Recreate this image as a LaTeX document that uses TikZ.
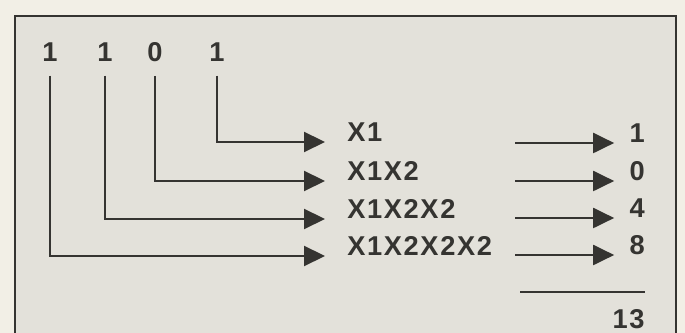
\documentclass[tikz,border=0pt]{standalone}
\usepackage{fontspec}
\setmainfont{Liberation Sans}
\usetikzlibrary{arrows.meta,positioning}
\definecolor{paper}{HTML}{F2EFE6}
\definecolor{panel}{HTML}{E3E1DA}
\definecolor{ink}{HTML}{353431}
\tikzset{
  digit/.style={font=\fontsize{15.5}{18}\selectfont\bfseries\addfontfeatures{LetterSpace=6}, text=ink, inner sep=0pt},
  product/.style={digit, anchor=base west},
  value/.style={digit, anchor=base east},
  arrow/.style={-{Triangle[length=0.42cm, width=0.4cm]}, line width=1.2pt, draw=ink},
  bitline/.style={arrow, shorten <=0.28cm, shorten >=0.44cm},
  rule/.style={line width=1.2pt, draw=ink}
}

\begin{document}
\begin{tikzpicture}[x=0.02cm, y=-0.02cm]
\useasboundingbox (0,0) rectangle (685,333);
\fill[paper] (0,0) rectangle (685,333);
\fill[panel] (15,16) rectangle (676,333);
\draw[rule] (15,333) -- (15,16) -- (676,16) -- (676,333);

\node[digit] (b1) at (50,52) {1};
\node[digit] (b2) at (105,52) {1};
\node[digit] (b3) at (155,52) {0};
\node[digit] (b4) at (217,52) {1};

\node[product] (p1) at (347,142) {X1};
\node[product] (p2) at (347,181) {X1X2};
\node[product] (p3) at (347,219) {X1X2X2};
\node[product] (p4) at (347,256) {X1X2X2X2};

% each bit drops down and turns right to its power of two
\draw[bitline] (b4.south) |- (p1.base west);
\draw[bitline] (b3.south) |- (p2.base west);
\draw[bitline] (b2.south) |- (p3.base west);
\draw[bitline] (b1.south) |- (p4.base west);

\node[value] (v1) at (645,143) {1};
\node[value] (v2) at (645,181) {0};
\node[value] (v3) at (645,218) {4};
\node[value] (v4) at (645,255) {8};

\coordinate (s1) at (515,143);
\coordinate (s2) at (515,181);
\coordinate (s3) at (515,218);
\coordinate (s4) at (515,255);
\foreach \i in {1,...,4}
  \draw[arrow, shorten >=0.3cm] (s\i) -- (v\i.base west);

\coordinate (r1) at (520,292);
\coordinate (r2) at (645,292);
\draw[rule] (r1) -- (r2);
\node[value] (sum) at (645,329) {13};
\end{tikzpicture}
\end{document}
